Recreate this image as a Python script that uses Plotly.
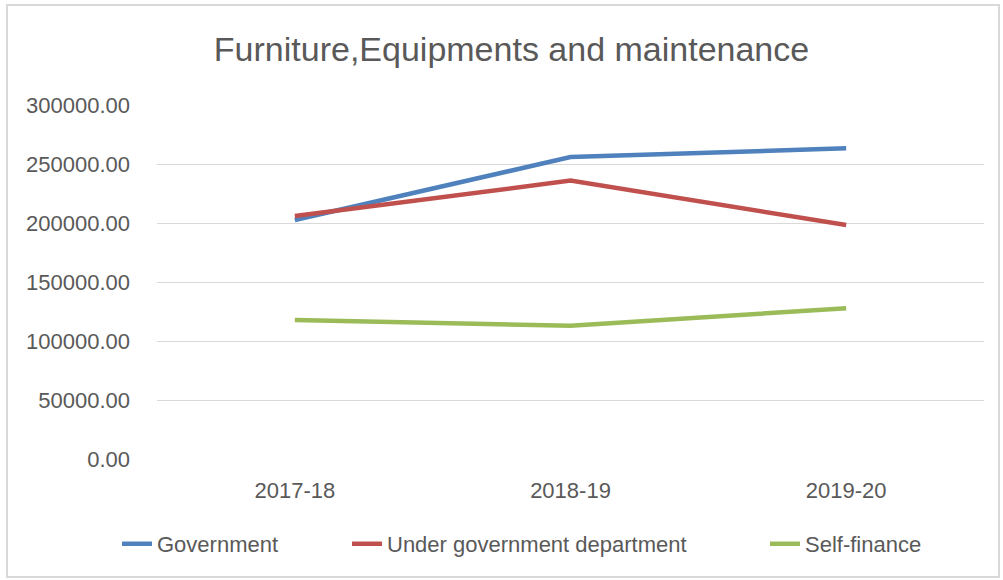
import plotly.graph_objects as go

# Spending per financial year
years = ["2017-18", "2018-19", "2019-20"]
government = [202500, 255900, 263300]
under_gov_dept = [205900, 235900, 198300]
self_finance = [117800, 113000, 127700]

y_ticks = [0, 50000, 100000, 150000, 200000, 250000, 300000]

FONT = "Liberation Sans, Arial, sans-serif"
TEXT = "#595959"

# plot area geometry (px) used for the legend placement
PLOT_L, PLOT_W = 157, 827

series = [
    ("Government", government, "#4F81BD", "legend", 122),
    ("Under government department", under_gov_dept, "#C0504D", "legend2", 352),
    ("Self-finance", self_finance, "#9BBB59", "legend3", 770),
]

fig = go.Figure()
legends = {}
for name, vals, color, leg, line_x in series:
    fig.add_trace(go.Scatter(
        x=years, y=vals, name=name, mode="lines",
        line=dict(color=color, width=4.5), legend=leg,
    ))
    legends[leg] = dict(
        orientation="h", x=(line_x - 5 - PLOT_L) / PLOT_W, xanchor="left",
        y=-0.24, yanchor="middle",
        font=dict(size=22, color=TEXT), bgcolor="rgba(0,0,0,0)",
    )

fig.update_layout(
    width=1003, height=580,
    margin=dict(l=157, r=19, t=105, b=121, autoexpand=False),
    paper_bgcolor="white", plot_bgcolor="white",
    font=dict(family=FONT, color=TEXT, size=22),
    title=dict(
        text="Furniture,Equipments and maintenance",
        x=0.51, xanchor="center", y=0.915, yanchor="middle",
        font=dict(size=34, color=TEXT, family=FONT),
    ),
    xaxis=dict(
        range=[-0.5, 2.5],
        showgrid=False, zeroline=False, showline=False,
        tickfont=dict(size=22, color=TEXT), ticks="",
        ticklabelstandoff=16,
    ),
    yaxis=dict(
        range=[0, 300000], tickvals=y_ticks, tickformat=".2f",
        showgrid=True, gridcolor="#D9D9D9", gridwidth=1,
        zeroline=False, showline=False, ticks="",
        tickfont=dict(size=22, color=TEXT), ticklabelstandoff=26,
    ),
    showlegend=True,
    **legends,
)

# light frame around the chart area
fig.add_shape(
    type="rect", xref="paper", yref="paper",
    x0=-150 / PLOT_W, x1=1 + 15 / PLOT_W, y0=-118 / 354, y1=1 + 100 / 354,
    line=dict(color="#D9D9D9", width=2), fillcolor="rgba(0,0,0,0)",
    layer="below",
)

fig.write_html("out.html")
